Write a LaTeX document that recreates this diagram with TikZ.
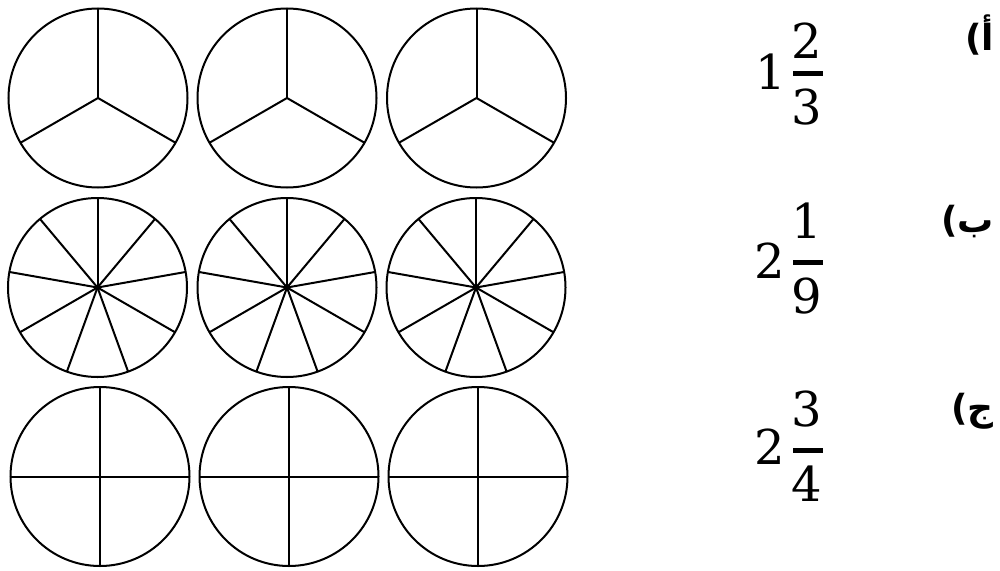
\documentclass[tikz,border=0pt]{standalone}
\usepackage{fontspec}
\TeXXeTstate=1
\newfontfamily\arabicfont[Script=Arabic]{DejaVu Sans}
\newfontfamily\digitfont{DejaVu Serif}
\begin{document}
\begin{tikzpicture}[x=1pt,y=-1pt,
  disc/.style={circle,draw,line width=2pt,minimum size=179pt,inner sep=0pt,outer sep=0pt},
  spoke/.style={line width=2pt},
  digit/.style={font=\digitfont\fontsize{48}{54}\selectfont,inner sep=0pt},
  fbar/.style={fill=black},
  lbl/.style={font=\arabicfont\bfseries\fontsize{36}{42}\selectfont,anchor=east,inner sep=0pt}]
\useasboundingbox (0,0) rectangle (1000,570);
% row 1: thirds
\foreach \n/\x in {a1/98,a2/287,a3/476.5}{
  \node[disc] (\n) at (\x,98) {};
  \foreach \a in {90,210,330} \draw[spoke] (\n.center) -- (\n.\a);
}
% row 2: ninths
\foreach \n/\x in {b1/97.5,b2/287,b3/476}{
  \node[disc] (\n) at (\x,287.5) {};
  \foreach \a in {90,50,10,-30,-70,-110,-150,170,130} \draw[spoke] (\n.center) -- (\n.\a);
  \fill (\n.center) circle (2.3pt);
}
% row 3: quarters
\foreach \n/\x in {c1/100,c2/289,c3/478}{
  \node[disc] (\n) at (\x,476.5) {};
  \draw[spoke] (\n.0) -- (\n.180);
  \draw[spoke] (\n.90) -- (\n.270);
}
% fractions
\node[digit] (w1) at (771,72) {1};
\node[digit] (n1) at (807,41) {2};
\node[digit] (d1) at (807,107) {3};
\fill[fbar] (793,70.5) rectangle (823,75.5);
\node[digit] (w2) at (770,261) {2};
\node[digit] (n2) at (807,221) {1};
\node[digit] (d2) at (807,296) {9};
\fill[fbar] (793,259.5) rectangle (823,264.5);
\node[digit] (w3) at (770,447) {2};
\node[digit] (n3) at (807,409) {3};
\node[digit] (d3) at (807,484) {4};
\fill[fbar] (793,447.5) rectangle (823,452.5);
% labels
\node[lbl] (la) at (994,35) {\beginR أ)\endR};
\node[lbl] (lb) at (994,222) {\beginR ب)\endR};
\node[lbl] (lc) at (994,411) {\beginR ج)\endR};
\end{tikzpicture}
\end{document}
